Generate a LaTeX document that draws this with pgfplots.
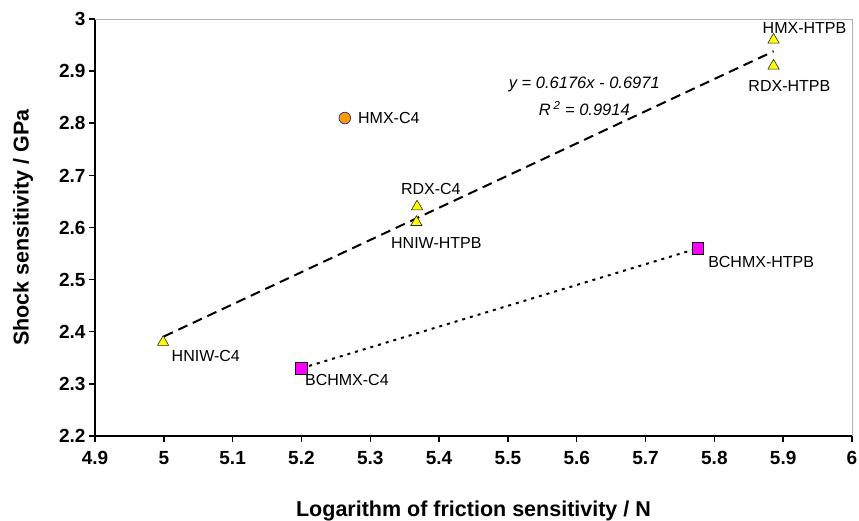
\documentclass[border=0pt]{standalone}
\usepackage{pgfplots}
\pgfplotsset{compat=1.18}
\usepackage{fontspec}
\setmainfont{Liberation Sans}
\definecolor{triyel}{RGB}{255,255,0}
\definecolor{circor}{RGB}{255,153,0}
\definecolor{circbd}{RGB}{40,40,150}
\definecolor{sqmag}{RGB}{255,0,255}
\begin{document}
\begin{tikzpicture}
\path[use as bounding box] (-95pt,-85pt) rectangle (764pt,436pt);
\begin{axis}[
  at={(0pt,0pt)}, anchor=south west,
  scale only axis, width=757pt, height=417pt,
  xmin=4.9, xmax=6, ymin=2.2, ymax=3,
  xtick={4.9,5,5.1,5.2,5.3,5.4,5.5,5.6,5.7,5.8,5.9,6},
  ytick={2.2,2.3,2.4,2.5,2.6,2.7,2.8,2.9,3},
  axis lines=left,
  axis line style={-, line width=1.5pt, black},
  tick align=outside, major tick length=6pt,
  tick style={black, line width=1.5pt},
  minor tick num=0,
  /pgf/number format/assume math mode=true,
  /pgf/number format/fixed,
  ticklabel style={font=\bfseries\fontsize{19}{22}\selectfont},
  xticklabel style={yshift=-6pt},
  xlabel={Logarithm of friction sensitivity / N},
  ylabel={Shock sensitivity / GPa},
  label style={font=\bfseries\fontsize{21.5}{25}\selectfont},
  xlabel style={at={(axis description cs:0.5,-0.181)}, anchor=center},
  ylabel style={at={(axis description cs:-0.0950,0.5)}, anchor=center},
  clip=false,
]
\draw[gray!60, line width=0.8pt] (rel axis cs:0,1) -- (rel axis cs:1,1) -- (rel axis cs:1,0);
% trend line (dashed)
\addplot[black, line width=2pt, dash pattern=on 10pt off 6pt] coordinates {(5.0,2.3909) (5.886,2.938)};
% dotted line
\addplot[black, line width=2pt, dash pattern=on 3pt off 5pt] coordinates {(5.2,2.33) (5.776,2.56)};
% triangles
\addplot[only marks, mark=triangle*, mark size=6.5pt, mark options={fill=triyel, draw=black!85, line width=0.6pt}]
  coordinates {(5.886,2.96) (5.886,2.91) (5.368,2.64) (5.367,2.61) (4.999,2.38)};
% circle
\addplot[only marks, mark=*, mark size=5.8pt, mark options={fill=circor, draw=circbd, line width=0.7pt}]
  coordinates {(5.263,2.81)};
% squares
\addplot[only marks, mark=square*, mark size=5.8pt, mark options={fill=sqmag, draw=black, line width=0.7pt}]
  coordinates {(5.2,2.33) (5.776,2.56)};
% labels
\begin{scope}[every node/.style={font=\fontsize{16}{19}\selectfont}]
\node at (axis cs:5.931,2.983) {HMX-HTPB};
\node at (axis cs:5.909,2.871) {RDX-HTPB};
\node at (axis cs:5.327,2.810) {HMX-C4};
\node at (axis cs:5.388,2.673) {RDX-C4};
\node at (axis cs:5.396,2.570) {HNIW-HTPB};
\node at (axis cs:5.061,2.354) {HNIW-C4};
\node at (axis cs:5.266,2.307) {BCHMX-C4};
\node at (axis cs:5.868,2.534) {BCHMX-HTPB};
\end{scope}
\node[font={\itshape\fontsize{16.5}{27}\selectfont}, align=center] at (axis cs:5.611,2.852)
  {y = 0.6176x - 0.6971\\R\,\textsuperscript{2} = 0.9914};
\end{axis}
\end{tikzpicture}
\end{document}
